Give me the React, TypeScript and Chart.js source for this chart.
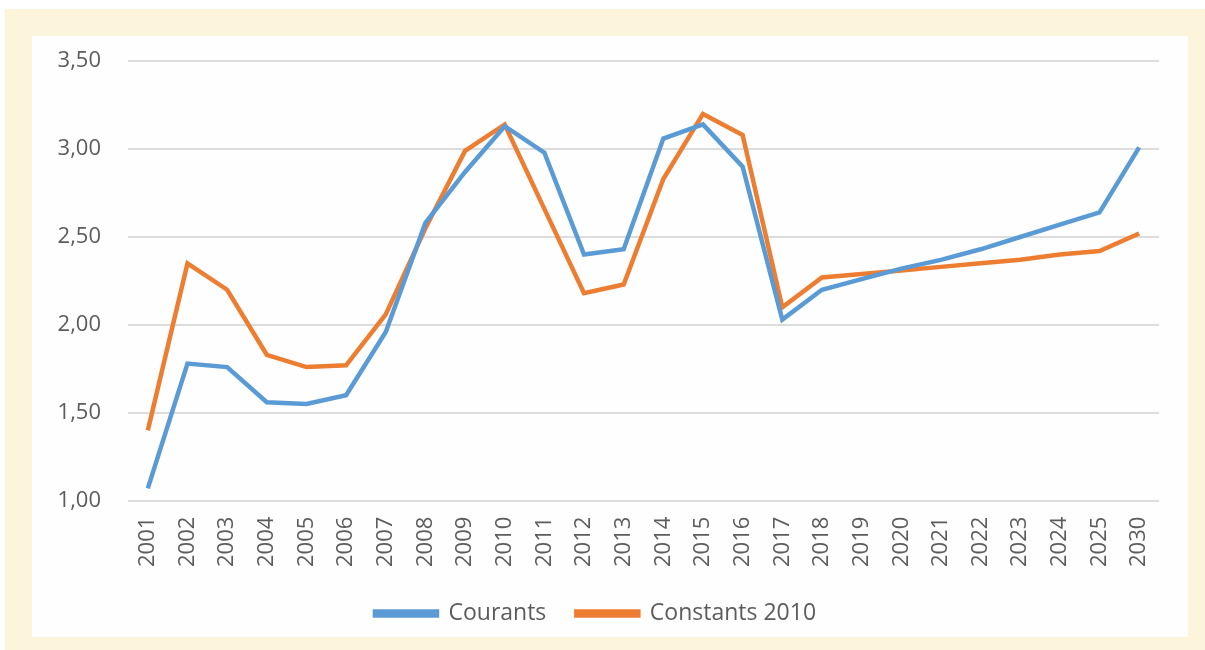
import React, { useEffect, useRef } from "react";
import { Chart, registerables } from "chart.js";

Chart.register(...registerables);

const years = ["2001","2002","2003","2004","2005","2006","2007","2008","2009","2010","2011","2012","2013","2014","2015","2016","2017","2018","2019","2020","2021","2022","2023","2024","2025","2030"];
const courants = [1.07,1.78,1.76,1.56,1.55,1.60,1.96,2.58,2.87,3.13,2.98,2.40,2.43,3.06,3.14,2.90,2.03,2.20,2.26,2.32,2.37,2.43,2.50,2.57,2.64,3.01];
const constants2010 = [1.40,2.35,2.20,1.83,1.76,1.77,2.06,2.55,2.99,3.14,2.66,2.18,2.23,2.83,3.20,3.08,2.10,2.27,2.29,2.31,2.33,2.35,2.37,2.40,2.42,2.52];
const seriesNames = ["Courants", "Constants 2010"];
const yMin = 1;
const yMax = 3.5;
const yStep = 0.5;

const BLUE = "#5B9BD5";
const ORANGE = "#ED7D31";
const TEXT = "#5c5c5c";
const FONT = "'Open Sans', sans-serif";

export default function App() {
  const ref = useRef<HTMLCanvasElement | null>(null);

  useEffect(() => {
    if (!ref.current) return;
    const chart = new Chart(ref.current, {
      type: "line",
      data: {
        labels: years,
        datasets: [
          {
            label: seriesNames[0],
            data: courants,
            borderColor: BLUE,
            backgroundColor: BLUE,
            borderWidth: 4.5,
            pointRadius: 0,
            tension: 0,
          },
          {
            label: seriesNames[1],
            data: constants2010,
            borderColor: ORANGE,
            backgroundColor: ORANGE,
            borderWidth: 4.5,
            pointRadius: 0,
            tension: 0,
          },
        ],
      },
      options: {
        animation: false,
        responsive: false,
        devicePixelRatio: 1,
        layout: { autoPadding: false, padding: { top: 0, right: 29, bottom: 2, left: 0 } },
        plugins: {
          tooltip: { enabled: false },
          legend: {
            position: "bottom",
            labels: {
              boxWidth: 62,
              boxHeight: 4,
              padding: 30,
              color: TEXT,
              font: { family: FONT, size: 23 },
            },
          },
        },
        scales: {
          x: {
            offset: true,
            afterFit: (scale: any) => {
              scale.height = scale.height - 11;
            },
            grid: { display: false, drawTicks: false },
            border: { display: false },
            ticks: {
              color: TEXT,
              font: { family: FONT, size: 22 },
              maxRotation: 90,
              minRotation: 90,
              autoSkip: false,
              padding: 16,
            },
          },
          y: {
            min: yMin,
            max: yMax,
            afterFit: (scale: any) => {
              scale.width = 96;
            },
            grid: { color: "#dcdcdc", lineWidth: 2, drawTicks: false },
            border: { display: false },
            ticks: {
              stepSize: yStep,
              color: TEXT,
              font: { family: FONT, size: 22 },
              padding: 27,
              callback: (v: any) => Number(v).toFixed(2).replace(".", ","),
            },
          },
        },
      },
    });
    return () => chart.destroy();
  }, []);

  return (
    <div style={{ position: "fixed", left: 0, top: 0, width: 1205, height: 650, background: "#ffffff" }}>
      <div style={{ position: "absolute", left: 5, top: 9, width: 1200, height: 641, background: "#FDF4DC" }} />
      <div style={{ position: "absolute", left: 32, top: 36, width: 1156, height: 601, background: "#fefefe" }} />
      <canvas
        ref={ref}
        width={1156}
        height={616}
        style={{ position: "absolute", left: 32, top: 21, display: "block" }}
      />
    </div>
  );
}
